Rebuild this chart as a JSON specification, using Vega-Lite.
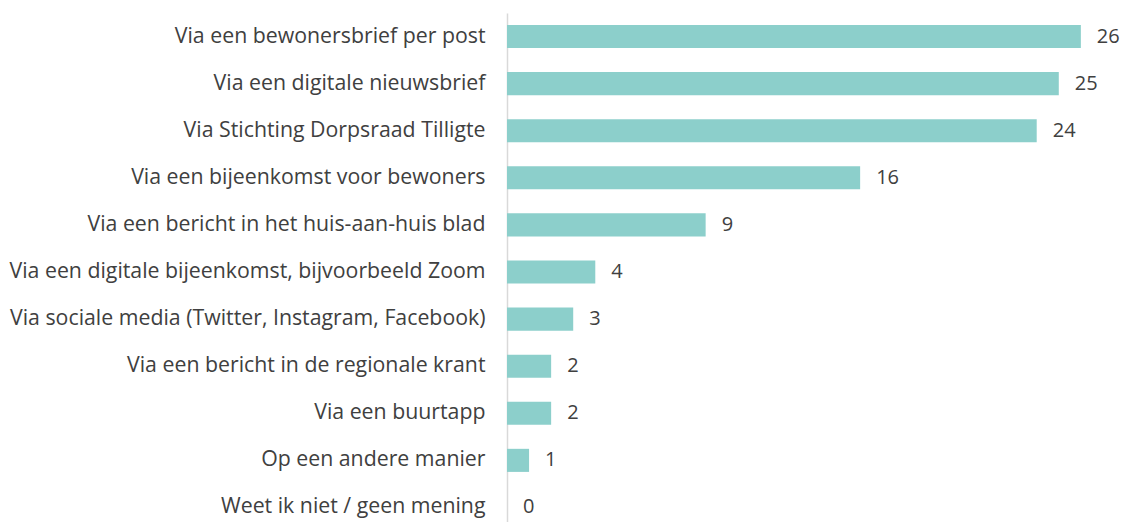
{
  "$schema": "https://vega.github.io/schema/vega-lite/v6.json",
  "autosize": {"type": "none"},
  "padding": {"left": 507, "top": 13, "right": 0, "bottom": 0},
  "width": 618,
  "height": 518,
  "background": "white",
  "config": {"view": {"stroke": null}, "font": "Open Sans"},
  "data": {"values": [
    {"cat": "Via een bewonersbrief per post", "n": 26},
    {"cat": "Via een digitale nieuwsbrief", "n": 25},
    {"cat": "Via Stichting Dorpsraad Tilligte", "n": 24},
    {"cat": "Via een bijeenkomst voor bewoners", "n": 16},
    {"cat": "Via een bericht in het huis-aan-huis blad", "n": 9},
    {"cat": "Via een digitale bijeenkomst, bijvoorbeeld Zoom", "n": 4},
    {"cat": "Via sociale media (Twitter, Instagram, Facebook)", "n": 3},
    {"cat": "Via een bericht in de regionale krant", "n": 2},
    {"cat": "Via een buurtapp", "n": 2},
    {"cat": "Op een andere manier", "n": 1},
    {"cat": "Weet ik niet / geen mening", "n": 0}
  ]},
  "encoding": {
    "y": {"field": "cat", "type": "nominal", "sort": null, "title": null,
      "scale": {"paddingInner": 0.51, "paddingOuter": 0.255},
      "axis": {"domainColor": "#d9d9d9", "domainWidth": 1.5, "ticks": false, "labelPadding": 22, "labelFontSize": 21.3, "labelColor": "#404040", "labelLimit": 600, "labelFont": "Open Sans"}},
    "x": {"field": "n", "type": "quantitative", "scale": {"domain": [0, 28]}, "axis": null}
  },
  "layer": [
    {"mark": {"type": "bar", "color": "#8ccfcb"}},
    {"mark": {"type": "text", "align": "left", "dx": 16, "fontSize": 20, "color": "#404040", "font": "Open Sans"}, "encoding": {"text": {"field": "n", "type": "quantitative"}}}
  ]
}
